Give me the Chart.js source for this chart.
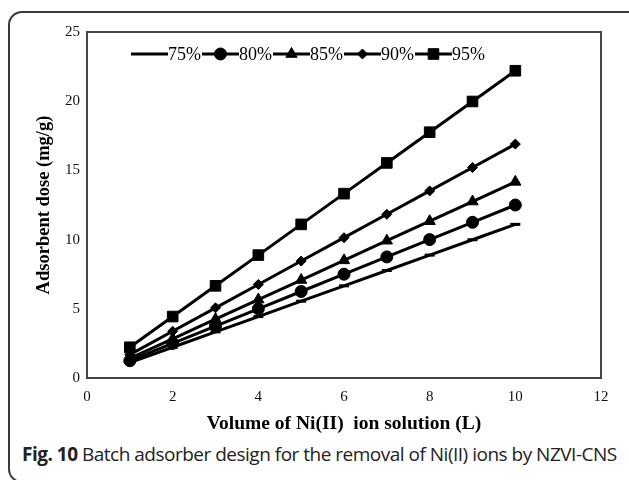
<!DOCTYPE html>
<html>
<head>
<meta charset="utf-8">
<script src="https://cdn.jsdelivr.net/npm/chart.js@4.4.1/dist/chart.umd.min.js"></script>
<style>
  html, body { margin: 0; padding: 0; background: #fff; width: 629px; height: 480px; overflow: hidden; }
  .frame {
    position: absolute; left: 8px; top: 11px; width: 640px; height: 472px;
    border: 2px solid #3a3a3a; border-radius: 14px; box-sizing: border-box;
  }
  .plot { position: absolute; left: 0; top: 0; width: 629px; height: 440px; }
  .caption {
    position: absolute; left: 22px; top: 441px; white-space: nowrap;
    font-family: "Open Sans", sans-serif; font-size: 19px; color: #222; letter-spacing: -0.5px;
  }
  .caption b { font-weight: 700; }
</style>
</head>
<body>
<div class="frame"></div>
<div class="plot"><canvas id="adsorberChart" width="629" height="440"></canvas></div>
<div class="caption"><b>Fig. 10</b> Batch adsorber design for the removal of Ni(II) ions by NZVI-CNS</div>

<script>
// volume of Ni(II) solution (L)
const volumes = [1, 2, 3, 4, 5, 6, 7, 8, 9, 10];

// adsorbent dose (mg/g) for each removal percentage
const dose75 = [1.11, 2.22, 3.33, 4.44, 5.55, 6.66, 7.77, 8.88, 9.99, 11.1];
const dose80 = [1.25, 2.5, 3.75, 5.0, 6.25, 7.5, 8.75, 10.0, 11.25, 12.5];
const dose85 = [1.42, 2.83, 4.25, 5.67, 7.08, 8.5, 9.92, 11.33, 12.75, 14.17];
const dose90 = [1.69, 3.38, 5.07, 6.76, 8.45, 10.14, 11.83, 13.52, 15.21, 16.9];
const dose95 = [2.22, 4.44, 6.66, 8.88, 11.1, 13.32, 15.54, 17.76, 19.98, 22.2];

const seriesLabels = ['75%', '80%', '85%', '90%', '95%'];
const xTicks = [0, 2, 4, 6, 8, 10, 12];
const yTicks = [0, 5, 10, 15, 20, 25];

const markers = [
  { style: 'line', radius: 5 },
  { style: 'circle', radius: 6 },
  { style: 'triangle', radius: 6.5 },
  { style: 'rectRot', radius: 5 },
  { style: 'rect', radius: 7.5 }
];

const serif = '"Liberation Serif", "Times New Roman", serif';

function makeSet(label, values, m) {
  return {
    label: label,
    data: values.map((v, i) => ({ x: volumes[i], y: v })),
    borderColor: '#000',
    backgroundColor: '#000',
    borderWidth: 3,
    pointStyle: m.style,
    pointRadius: m.radius,
    pointBorderWidth: m.style === 'line' ? 3 : 1,
    pointBackgroundColor: '#000',
    pointBorderColor: '#000',
    tension: 0
  };
}

// Legend drawn inside the plot, line with marker in the middle
const insideLegend = {
  id: 'insideLegend',
  afterDraw(chart) {
    const ctx = chart.ctx;
    const y = 54;
    let x = 131;
    ctx.save();
    ctx.font = '18px ' + serif;
    ctx.textBaseline = 'middle';
    chart.data.datasets.forEach((ds) => {
      const lineLen = 37;
      ctx.strokeStyle = '#000';
      ctx.lineWidth = 3;
      ctx.beginPath();
      ctx.moveTo(x, y);
      ctx.lineTo(x + lineLen, y);
      ctx.stroke();
      if (ds.pointStyle !== 'line') {
        ctx.fillStyle = '#000';
        ctx.lineWidth = 1;
        Chart.helpers.drawPoint(ctx, { pointStyle: ds.pointStyle, radius: ds.pointRadius, borderWidth: 1 }, x + lineLen / 2, y);
      }
      ctx.fillStyle = '#000';
      ctx.fillText(ds.label, x + lineLen, y + 1);
      x += lineLen + ctx.measureText(ds.label).width + 1;
    });
    ctx.restore();
  }
};

// Box around the plot area
const plotFrame = {
  id: 'plotFrame',
  afterDatasetsDraw(chart) {
    const a = chart.chartArea;
    const ctx = chart.ctx;
    ctx.save();
    ctx.strokeStyle = '#444';
    ctx.lineWidth = 2;
    ctx.strokeRect(a.left, a.top, a.right - a.left, a.bottom - a.top);
    ctx.restore();
  }
};

new Chart(document.getElementById('adsorberChart'), {
  type: 'line',
  data: {
    datasets: [
      makeSet(seriesLabels[0], dose75, markers[0]),
      makeSet(seriesLabels[1], dose80, markers[1]),
      makeSet(seriesLabels[2], dose85, markers[2]),
      makeSet(seriesLabels[3], dose90, markers[3]),
      makeSet(seriesLabels[4], dose95, markers[4])
    ]
  },
  options: {
    responsive: false,
    animation: false,
    layout: { padding: { top: 32, right: 28, left: 0, bottom: 0 } },
    plugins: {
      legend: { display: false },
      tooltip: { enabled: false }
    },
    scales: {
      x: {
        type: 'linear',
        min: 0, max: 12,
        afterBuildTicks(scale) { scale.ticks = xTicks.map(v => ({ value: v })); },
        afterFit(scale) { scale.height = 62; },
        grid: { display: false, drawTicks: false },
        border: { display: false },
        ticks: { color: '#111', padding: 10, font: { family: serif, size: 15 } },
        title: {
          display: true,
          text: 'Volume of Ni(II)  ion solution (L)',
          color: '#000',
          font: { family: serif, size: 19.5, weight: 'bold' },
          padding: { top: 6, bottom: 4 }
        }
      },
      y: {
        min: 0, max: 25,
        afterBuildTicks(scale) { scale.ticks = yTicks.map(v => ({ value: v })); },
        afterFit(scale) { scale.width = 87; },
        grid: { display: false, drawTicks: false },
        border: { display: false },
        ticks: { color: '#111', padding: 7, font: { family: serif, size: 15 } },
        title: {
          display: true,
          text: 'Adsorbent dose (mg/g)',
          color: '#000',
          font: { family: serif, size: 18.5, weight: 'bold' },
          padding: { top: 33, bottom: 0 }
        }
      }
    }
  },
  plugins: [plotFrame, insideLegend]
});
</script>
</body>
</html>
